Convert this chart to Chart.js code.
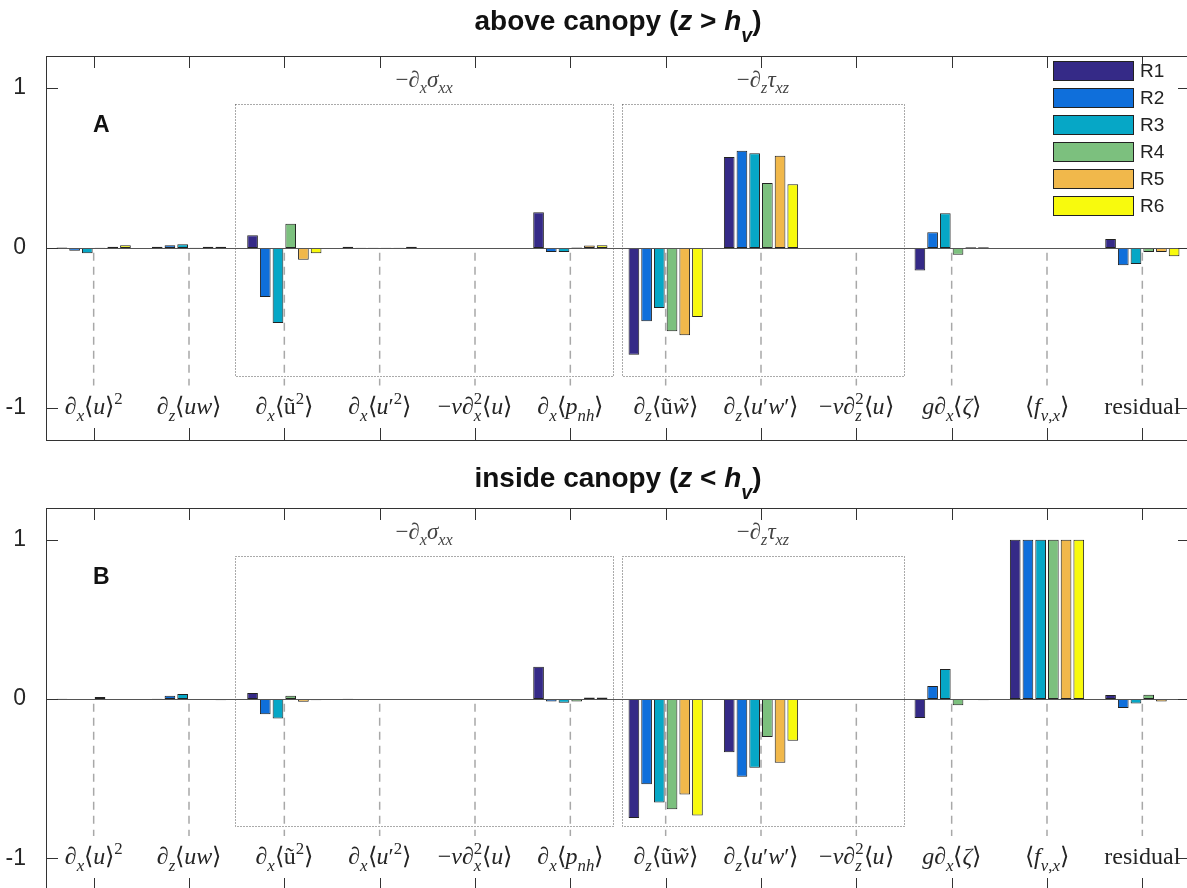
<!DOCTYPE html>
<html>
<head>
<meta charset="utf-8">
<script src="https://cdn.jsdelivr.net/npm/chart.js@4.4.1/dist/chart.umd.min.js"></script>
<style>
  html, body { margin: 0; padding: 0; background: #fff; overflow: hidden; }
  canvas { display: block; }
</style>
</head>
<body>
<canvas id="above" width="1200" height="455"></canvas>
<canvas id="inside" width="1200" height="440"></canvas>
<script>
// category labels use a tiny markup: _{..} subscript, ^{..} superscript, *..* italic
const categories = [
  '∂_{x}⟨u⟩^{2}', '∂_{z}⟨uw⟩', '∂_{x}⟨ũ^{2}⟩', '∂_{x}⟨u′^{2}⟩', '−ν∂^{2}_{x}⟨u⟩', '∂_{x}⟨p_{nh}⟩',
  '∂_{z}⟨ũw̃⟩', '∂_{z}⟨u′w′⟩', '−ν∂^{2}_{z}⟨u⟩', 'g∂_{x}⟨ζ⟩', '⟨f_{v,x}⟩', 'residual'
];
const romanLabels = ['residual'];
const groupTitles = ['−∂_{x}σ_{xx}', '−∂_{z}τ_{xz}'];
const seriesNames = ['R1', 'R2', 'R3', 'R4', 'R5', 'R6'];
const seriesColors = ['#352a87', '#0f6fdb', '#06a7c6', '#7cc07e', '#f1b84b', '#f8fa0d'];
const yTicks = [-1, 0, 1];

// A: above canopy, one row per run
const aboveCanopy = [
  [0.003, 0.008, 0.079, 0.008, 0, 0.223, -0.667, 0.569, 0, -0.14, 0, 0.056],
  [-0.017, 0.017, -0.306, 0.002, 0, -0.025, -0.458, 0.608, 0, 0.098, 0, -0.108],
  [-0.033, 0.023, -0.469, 0.002, 0, -0.025, -0.375, 0.592, 0, 0.217, 0, -0.1],
  [0.002, 0.002, 0.152, 0.002, 0, 0.003, -0.521, 0.406, 0, -0.042, 0, -0.025],
  [0.008, 0.008, -0.073, 0.002, 0, 0.015, -0.546, 0.577, 0, 0.005, 0, -0.025],
  [0.017, 0.008, -0.033, 0.008, 0, 0.017, -0.431, 0.398, 0, 0.004, 0, -0.052]
];
// B: inside canopy
const insideCanopy = [
  [0.001, 0.001, 0.038, 0.001, 0, 0.203, -0.748, -0.335, 0, -0.12, 1, 0.025],
  [0, 0.021, -0.096, 0, 0, -0.015, -0.535, -0.488, 0, 0.082, 1, -0.057],
  [-0.006, 0.031, -0.122, 0, 0, -0.023, -0.65, -0.432, 0, 0.189, 1, -0.029],
  [0.012, 0, 0.021, 0, 0, -0.015, -0.692, -0.239, 0, -0.04, 1, 0.027],
  [0, 0, -0.017, 0, 0, 0.01, -0.6, -0.4, 0, 0, 1, -0.015],
  [0, -0.008, -0.008, 0, 0, 0.01, -0.732, -0.262, 0, -0.008, 1, -0.006]
];

function tokenize(str) {
  const out = [];
  let italic = false, i = 0;
  while (i < str.length) {
    const c = str[i];
    if (c === '*') { italic = !italic; i++; continue; }
    if ((c === '_' || c === '^') && str[i + 1] === '{') {
      const end = str.indexOf('}', i);
      let t = str.slice(i + 2, end), it = italic;
      if (t.includes('*')) { it = true; t = t.replace(/\*/g, ''); }
      out.push({ text: t, level: c === '_' ? -1 : 1, italic: it });
      i = end + 1;
      continue;
    }
    let j = i;
    while (j < str.length && !'*_^'.includes(str[j])) j++;
    out.push({ text: str.slice(i, j), level: 0, italic });
    i = j;
  }
  return out;
}

// draws rich text centred on cx
function richText(ctx, str, cx, baseline, o) {
  const items = [];
  let x = 0, prev = null;
  tokenize(str).forEach(t => {
    let start = x;
    const stack = prev && t.level && prev.level === -t.level;
    if (stack) start = prev.start;
    let px = start;
    const size = t.level ? o.size * 0.7 : o.size;
    for (const cl of t.text.match(/.[\u0300-\u036f]*/gu) || []) {
      const base = cl.replace(/[\u0300-\u036f]/g, '');
      const it = (o.math && /[a-zA-Z\u03b1-\u03c9]/.test(base)) || t.italic;
      const font = (it ? 'italic ' : '') + (o.weight || 'normal') + ' ' + size + 'px ' + o.family;
      ctx.font = font;
      const w = ctx.measureText(base).width;
      const dy = t.level === -1 ? o.size * (o.subDrop || 0.28) : t.level === 1 ? -o.size * 0.42 : 0;
      items.push({ cl: base, font, x: px, dy, w, tilde: cl.includes('\u0303') });
      px += w;
    }
    const end = stack ? Math.max(px, prev.end) : px;
    prev = { start, end, level: t.level };
    x = end;
  });
  const x0 = cx - x / 2;
  ctx.fillStyle = o.color;
  ctx.textBaseline = 'alphabetic';
  items.forEach(it => {
    ctx.font = it.font;
    ctx.textAlign = 'left';
    ctx.fillText(it.cl, x0 + it.x, baseline + it.dy);
    if (it.tilde) {
      ctx.textAlign = 'center';
      ctx.fillText('\u02dc', x0 + it.x + it.w / 2 + o.size * 0.06, baseline + it.dy);
    }
  });
}

function decor(title, titleY, letter, withLegend) {
  return {
    id: 'decor',
    beforeDatasetsDraw(chart) {
      const { ctx, scales: { x, y } } = chart;
      ctx.save();
      ctx.strokeStyle = '#a8a8a8';
      ctx.lineWidth = 1.5;
      ctx.setLineDash([8, 6]);
      categories.forEach((c, i) => {
        const px = x.getPixelForValue(i);
        ctx.beginPath();
        ctx.moveTo(px, y.getPixelForValue(-0.03));
        ctx.lineTo(px, y.getPixelForValue(-0.86));
        ctx.stroke();
      });
      // dotted group boxes
      ctx.setLineDash([1, 2]);
      ctx.strokeStyle = '#555';
      ctx.lineWidth = 1;
      [[1.48, 5.45], [5.54, 8.5]].forEach(([a, b]) => {
        const l = Math.round(x.getPixelForValue(a)) + 0.5, r = Math.round(x.getPixelForValue(b)) + 0.5;
        const t = Math.round(y.getPixelForValue(0.9)) + 0.5, btm = Math.round(y.getPixelForValue(-0.8)) + 0.5;
        ctx.strokeRect(l, t, r - l, btm - t);
      });
      ctx.restore();
    },
    afterDatasetsDraw(chart) {
      const { ctx, chartArea: a, scales: { x, y } } = chart;
      ctx.save();
      // baseline at zero
      const y0 = Math.round(y.getPixelForValue(0)) + 0.5;
      ctx.strokeStyle = '#555';
      ctx.lineWidth = 1;
      ctx.beginPath(); ctx.moveTo(a.left, y0); ctx.lineTo(a.right, y0); ctx.stroke();
      // frame and inward ticks
      ctx.strokeStyle = '#333';
      ctx.strokeRect(a.left + 0.5, a.top + 0.5, a.right - a.left - 1, a.bottom - a.top);
      ctx.beginPath();
      categories.forEach((c, i) => {
        const px = Math.round(x.getPixelForValue(i)) + 0.5;
        ctx.moveTo(px, a.top); ctx.lineTo(px, a.top + 12);
        ctx.moveTo(px, a.bottom); ctx.lineTo(px, a.bottom - 12);
      });
      yTicks.forEach(v => {
        const py = Math.round(y.getPixelForValue(v)) + 0.5;
        ctx.moveTo(a.left, py); ctx.lineTo(a.left + 12, py);
        ctx.moveTo(a.right, py); ctx.lineTo(a.right - 12, py);
      });
      ctx.stroke();
      // category labels
      const ly = y.getPixelForValue(-1) + 6;
      categories.forEach((c, i) => {
        const roman = romanLabels.includes(c);
        richText(ctx, c, x.getPixelForValue(i), ly, { size: 24, family: '"Liberation Serif"', math: !roman, color: '#262626' });
      });
      // group titles
      [[1.48, 5.45], [5.54, 8.5]].forEach(([p, q], k) => {
        const cx = (x.getPixelForValue(p) + x.getPixelForValue(q)) / 2;
        richText(ctx, groupTitles[k], cx, y.getPixelForValue(1) - 1, { size: 23, family: '"Liberation Serif"', math: true, color: '#444' });
      });
      // panel letter
      ctx.font = 'bold 23px "Liberation Sans"';
      ctx.fillStyle = '#111';
      ctx.textAlign = 'left';
      ctx.textBaseline = 'alphabetic';
      ctx.fillText(letter, a.left + 47, a.top + 76);
      // title
      richText(ctx, title, (a.left + a.right) / 2, titleY, { size: 28, family: '"Liberation Sans"', weight: 'bold', color: '#111', subDrop: 0.42 });
      // legend
      if (withLegend) {
        const lx = a.right - 137, ly0 = a.top + 5;
        seriesNames.forEach((n, i) => {
          const top = ly0 + i * 27;
          ctx.fillStyle = seriesColors[i];
          ctx.fillRect(lx, top, 81, 20);
          ctx.strokeStyle = '#222';
          ctx.lineWidth = 1;
          ctx.strokeRect(lx + 0.5, top + 0.5, 80, 19);
          ctx.fillStyle = '#222';
          ctx.font = '19px "Liberation Sans"';
          ctx.textAlign = 'left';
          ctx.textBaseline = 'middle';
          ctx.fillText(n, lx + 87, top + 10.5);
        });
      }
      ctx.restore();
    }
  };
}

function makeChart(id, values, title, titleY, letter, topPad, bottomPad, withLegend) {
  return new Chart(document.getElementById(id), {
    type: 'bar',
    data: {
      labels: categories,
      datasets: seriesNames.map((n, i) => ({
        label: n,
        data: values[i],
        backgroundColor: seriesColors[i],
        borderColor: '#222',
        borderWidth: 1,
        borderSkipped: false
      }))
    },
    options: {
      responsive: false,
      animation: false,
      devicePixelRatio: 1,
      layout: { padding: { top: topPad, bottom: bottomPad, left: 0, right: 10 } },
      datasets: { bar: { categoryPercentage: 0.8, barPercentage: 0.84 } },
      plugins: { legend: { display: false }, tooltip: { enabled: false }, title: { display: false } },
      scales: {
        x: { display: false, offset: true, grid: { display: false } },
        y: {
          min: -1.2, max: 1.2,
          grid: { display: false },
          border: { display: false },
          afterFit: s => { s.width = 46; s.paddingTop = 0; s.paddingBottom = 0; },
          afterBuildTicks: s => { s.ticks = yTicks.map(v => ({ value: v })); },
          ticks: { padding: 12, color: '#262626', font: { family: 'Liberation Sans', size: 23 } }
        }
      }
    },
    plugins: [decor(title, titleY, letter, withLegend)]
  });
}

makeChart('above', aboveCanopy, 'above canopy (*z* > *h*_{*v*})', 30, 'A', 56, 15, true);
makeChart('inside', insideCanopy, 'inside canopy (*z* < *h*_{*v*})', 32, 'B', 53, 5, false);
</script>
</body>
</html>
